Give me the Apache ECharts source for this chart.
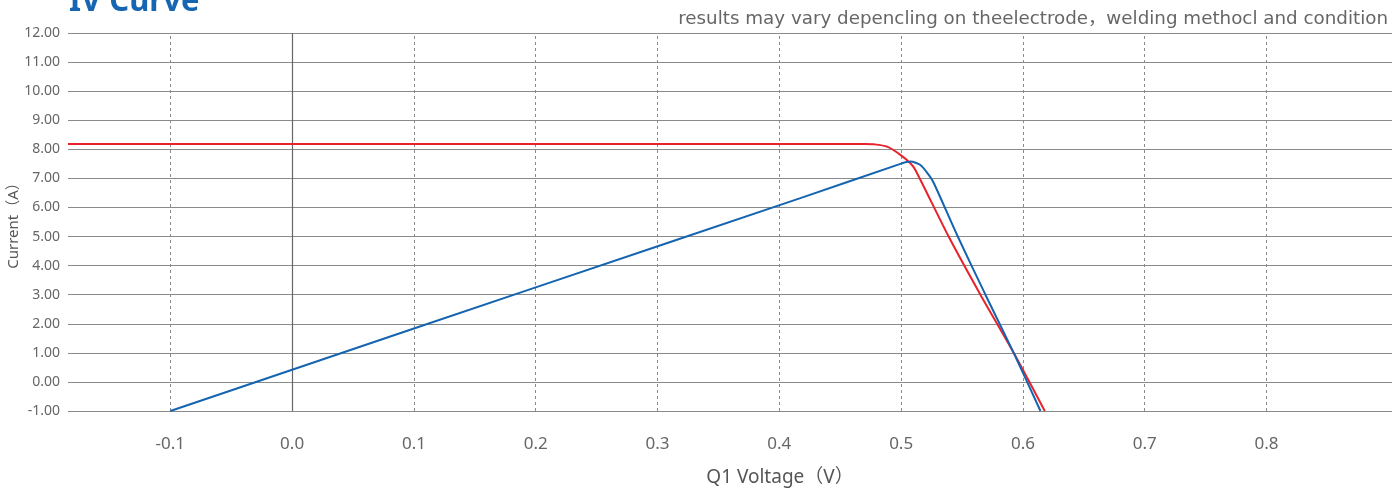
<!DOCTYPE html>
<html>
<head>
<meta charset="utf-8">
<script src="https://cdn.jsdelivr.net/npm/echarts@6/dist/echarts.min.js"></script>
<style>
html,body{margin:0;padding:0;background:#fff;}
#chart{width:1398px;height:490px;}
</style>
</head>
<body>
<div id="chart"></div>
<script>
// ---- data ----
var titleText = 'IV Curve';
var noteText = 'results may vary depencling on theelectrode，welding methocl and condition';
var xName = 'Q1 Voltage（V）';
var yName = 'Current（A）';

var xTicks = [-0.1, 0.0, 0.1, 0.2, 0.3, 0.4, 0.5, 0.6, 0.7, 0.8];
var xMin = -0.184, xMax = 0.903;
var yMin = -1, yMax = 12, yStep = 1;

// red curve (voltage, current)
var redV = [-0.184, 0.0, 0.2, 0.4, 0.470, 0.478, 0.4885, 0.4994, 0.5076, 0.5117, 0.539, 0.5651, 0.5924, 0.6179];
var redI = [8.18, 8.18, 8.18, 8.18, 8.18, 8.17, 8.09, 7.81, 7.52, 7.29, 5.0, 3.0, 1.0, -1.0];

// blue curve (voltage, current)
var blueV = [-0.1, 0.0, 0.2, 0.4173, 0.4994, 0.5076, 0.5158, 0.5227, 0.5268, 0.5465, 0.5692, 0.5924, 0.6144];
var blueI = [-1.0, 0.42, 3.25, 6.32, 7.50, 7.58, 7.46, 7.12, 6.84, 5.0, 3.0, 1.0, -1.0];

function pairs(xs, ys){ return xs.map(function(x,i){ return [x, ys[i]]; }); }

var gridCol = '#8a8a8a';
var font = 'Noto Sans, Noto Sans CJK SC, sans-serif';

var vLines = xTicks.map(function(v){
  if (v === 0) return {xAxis: v, lineStyle: {color: '#666', width: 1.2, type: 'solid'}};
  return {xAxis: v, lineStyle: {color: '#8a8a8a', width: 1, type: [3, 3]}};
});

var chart = echarts.init(document.getElementById('chart'), null, {renderer: 'canvas'});
chart.setOption({
  animation: false,
  backgroundColor: '#fff',
  title: [
    {text: titleText, left: 64, top: -18,
     textStyle: {fontSize: 31, fontWeight: 'bold', color: '#1565b3', fontFamily: font}},
    {text: noteText, right: 5, top: 5,
     textStyle: {fontSize: 18.3, fontWeight: 'normal', color: '#666', fontFamily: 'DejaVu Sans, Noto Sans CJK SC, sans-serif'}}
  ],
  grid: {left: 68, right: 6, top: 33, bottom: 79, containLabel: false, outerBoundsMode: 'none'},
  xAxis: {
    type: 'value', min: xMin, max: xMax,
    name: xName, nameLocation: 'middle', nameGap: 57,
    nameTextStyle: {fontSize: 19, color: '#555', fontFamily: font, padding: [0, 0, 0, 100]},
    axisLine: {show: false}, axisTick: {show: false, customValues: xTicks},
    splitLine: {show: false},
    axisLabel: {customValues: xTicks, margin: 25, fontSize: 17, color: '#666', fontFamily: font,
      formatter: function(v){ return v.toFixed(1); }}
  },
  yAxis: {
    type: 'value', min: yMin, max: yMax, interval: yStep,
    name: yName, nameLocation: 'middle', nameGap: 47, nameRotate: 90, nameMoveOverlap: false,
    nameTextStyle: {fontSize: 15, color: '#555', fontFamily: font},
    axisLine: {show: false}, axisTick: {show: false},
    splitLine: {show: true, lineStyle: {color: gridCol, width: 1.2}},
    axisLabel: {margin: 8, fontSize: 14, color: '#666', fontFamily: font,
      formatter: function(v){ return v.toFixed(2); }}
  },
  series: [
    {type: 'line', data: pairs(redV, redI), symbol: 'none', smooth: 0.25,
     lineStyle: {color: '#e8222a', width: 2}, z: 3,
     markLine: {silent: true, symbol: 'none', label: {show: false}, data: vLines, z: 1}},
    {type: 'line', data: pairs(blueV, blueI), symbol: 'none', smooth: 0.25,
     lineStyle: {color: '#1464b0', width: 2}, z: 4}
  ]
});
</script>
</body>
</html>
